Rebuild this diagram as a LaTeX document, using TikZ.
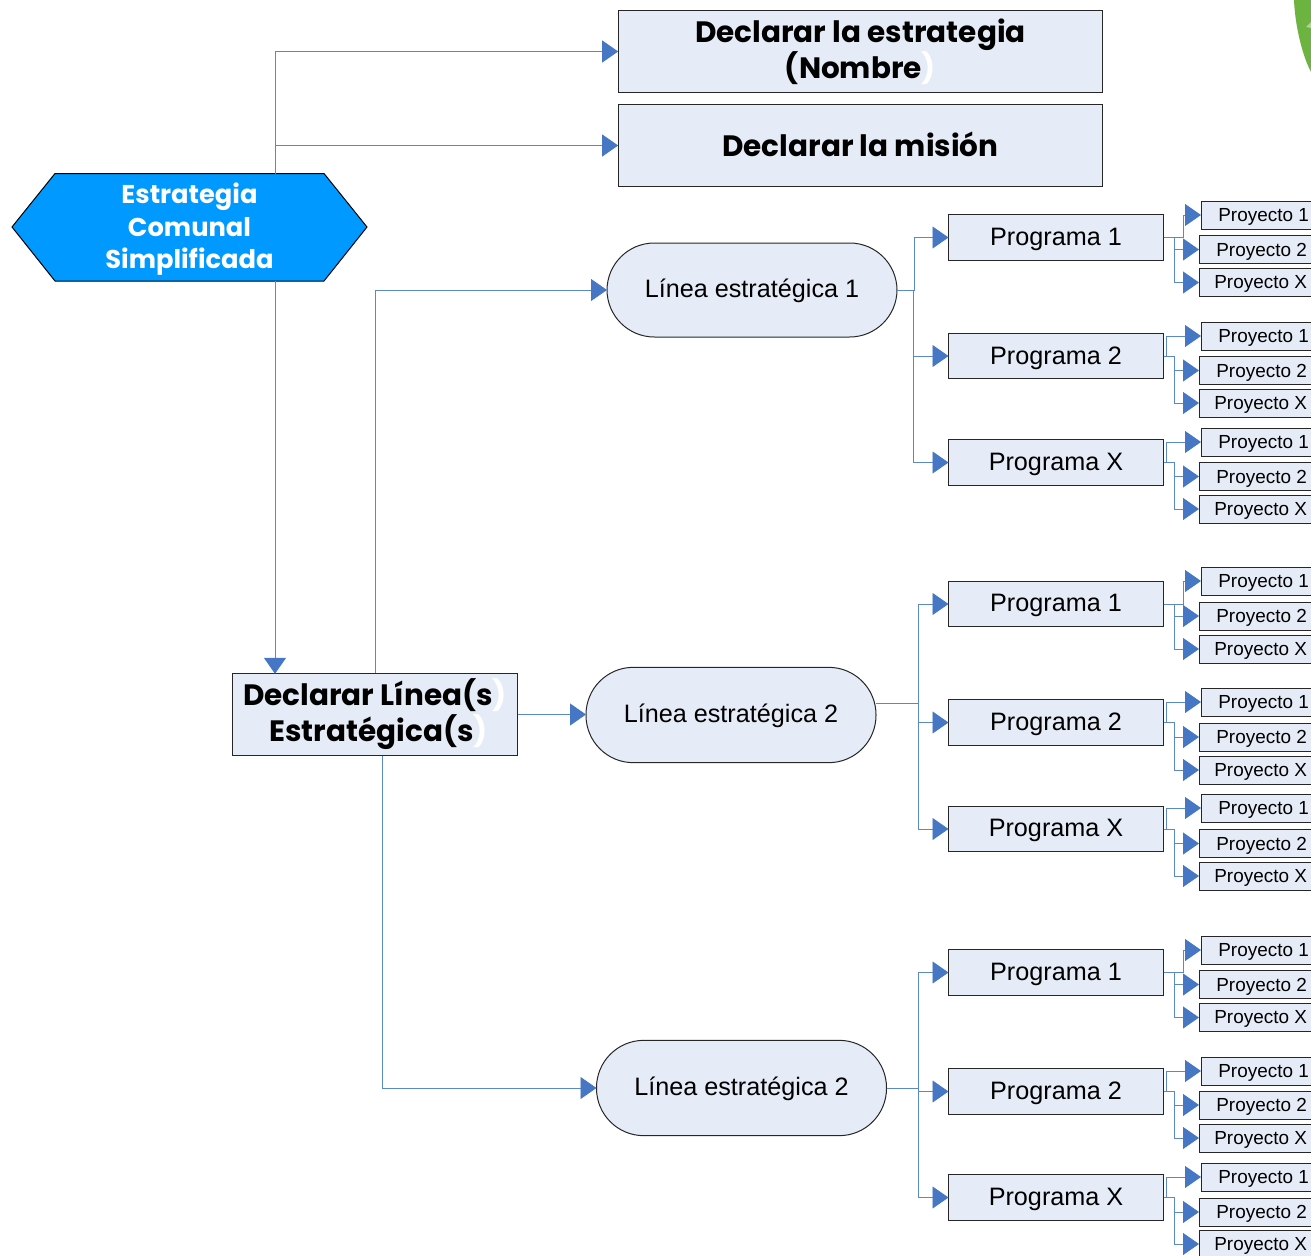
\documentclass[tikz,border=0pt]{standalone}
\usepackage{fontspec}
\setmainfont{Liberation Sans}
\newfontfamily\hb{Poppins}
\usetikzlibrary{arrows.meta,calc}
\definecolor{boxfill}{HTML}{E6ECF7}
\definecolor{conncol}{HTML}{5B88C6}
\definecolor{tipcol}{HTML}{4677C4}
\definecolor{hexcol}{HTML}{0099FF}
\definecolor{leaf}{HTML}{6DB33F}
\tikzset{
  every node/.style={inner sep=0pt,outer sep=0pt},
  conn/.style={draw=conncol,line width=0.7pt,-{Triangle[length=12pt,width=16.5pt,color=tipcol,quick]}},
  bigbox/.style={draw=black!85,fill=boxfill,line width=0.75pt,minimum width=363.5pt,minimum height=61pt,align=center,font=\hb\bfseries\fontsize{22.1}{27}\selectfont},
  linea/.style={draw=black!85,fill=boxfill,line width=0.75pt,rounded corners=35.5pt,minimum width=217.5pt,minimum height=71.5pt,font=\fontsize{18.9}{22}\selectfont},
  progbox/.style={draw=black!85,fill=boxfill,line width=0.75pt,minimum width=161.25pt,minimum height=34pt,font=\fontsize{18.9}{22}\selectfont},
  projbox/.style={draw=black!85,fill=boxfill,line width=0.75pt,minimum width=90pt,minimum height=21pt,anchor=west,font=\fontsize{14.2}{17}\selectfont},
}
\newcommand{\dn}[2]{\raisebox{-#1pt}[\height][\depth]{#2}}
\newcommand{\projtxt}[2]{\makebox[82pt][l]{\hspace{#1pt}\dn{1.4}{Proyecto #2}}}
% id, y, label, elbow dx, y1, y2, y3
\newcommand{\pblock}[7]{
  \node[progbox] (#1) at (1056,#2) {\dn{1.4}{#3}};
  \node[projbox] (#1a) at (1201,#5) {\hspace{-7pt}\projtxt{12.5}{1}};
  \node[projbox] (#1b) at (1199,#6) {\hspace{-7pt}\projtxt{12.5}{2}};
  \node[projbox] (#1c) at (1199,#7) {\hspace{-7pt}\projtxt{11}{X}};
  \draw[conn] (#1.east) -- ++(#4,0) |- (#1a.west);
  \draw[conn] (#1.east) -- ++(11,0) |- (#1b.west);
  \draw[conn] (#1.east) -- ++(11,0) |- (#1c.west);
}
\begin{document}
\begin{tikzpicture}[x=0.75pt,y=-0.75pt]
\useasboundingbox (0,0) rectangle (1311,1256);
\clip (0,0) rectangle (1311,1256);
% green corner
\fill[leaf] (1294,0) .. controls (1295,25) and (1302,55) .. (1311,72) -- (1311,0) -- cycle;
\fill[leaf!55!white] (1306,27) -- (1311,22) -- (1311,28) -- cycle;
% main boxes
\node[bigbox] (d1) at (860.5,51.5) {Declarar la estrategia\\(Nombre{\color{white})}};
\node[bigbox] (d2) at (860.5,145.5) {\dn{-1.2}{Declarar la misión}};
\fill[hexcol,draw=black,line width=0.75pt] (12,227) -- (55,173.5) -- (324,173.5) -- (367,227) -- (324,281) -- (55,281) -- cycle;
\node[minimum width=266pt,minimum height=80pt,align=center,text=white,font=\hb\bfseries\fontsize{19.3}{24.4}\selectfont] (hex) at (189.5,229.5) {Estrategia\\Comunal\\Simplificada};
\coordinate (ht) at (275,173.5);
\coordinate (hb) at (275,281);
\node[bigbox,minimum width=213.75pt] (dl) at (375,714.5) {Declarar Línea(s{\color{white})}\\\hspace*{5.5pt}Estratégica(s{\color{white})}};
\node[linea,minimum height=70.5pt] (L1) at (752,290) {\dn{0.8}{Línea estratégica 1}};
\node[linea] (L2) at (731,715) {\dn{0.8}{Línea estratégica 2}};
\node[linea] (L3) at (741.5,1088) {\dn{0.8}{Línea estratégica 2}};
% top connectors
\draw[conn] (ht) |- (d1.west);
\draw[conn] (ht) |- (d2.west);
\draw[conn] (hb) -- (hb |- dl.north);
\coordinate (dlt) at (375,673);
\coordinate (dlb) at (382,755.5);
\draw[conn] (dlt) |- (L1.west);
\draw[conn] (dl.east) -- (dl.east -| L2.west);
\draw[conn] (dlb) |- (L3.west);
% programme blocks
\pblock{a}{237.5}{Programa 1}{20}{215}{249.5}{282.5}
\pblock{b}{356}{Programa 2}{3}{336}{370.5}{403}
\pblock{c}{462.5}{Programa X}{3}{442}{476.5}{509}
\pblock{d}{604}{Programa 1}{20}{581}{616}{649}
\pblock{e}{722.5}{Programa 2}{3}{702}{737}{770}
\pblock{f}{829}{Programa X}{3}{808}{843.5}{876}
\pblock{g}{972.5}{Programa 1}{20}{950}{984.5}{1017.5}
\pblock{h}{1091.5}{Programa 2}{3}{1071}{1105}{1138}
\pblock{i}{1197.5}{Programa X}{3}{1177}{1212}{1244}
% linea to programme
\draw[conn] (L1.east) -- ++(17,0) |- (a.west);
\draw[conn] (L1.east) -- ++(16,0) |- (b.west);
\draw[conn] (L1.east) -- ++(16,0) |- (c.west);
\coordinate (L2o) at ($(L2.east)+(0,-12)$);
\draw[conn] (L2o) -- ++(42,0) |- (d.west);
\draw[conn] (L2o) -- ++(42,0) |- (e.west);
\draw[conn] (L2o) -- ++(42,0) |- (f.west);
\draw[conn] (L3.east) -- ++(32,0) |- (g.west);
\draw[conn] (L3.east) -- ++(32,0) |- (h.west);
\draw[conn] (L3.east) -- ++(32,0) |- (i.west);
\end{tikzpicture}
\end{document}
